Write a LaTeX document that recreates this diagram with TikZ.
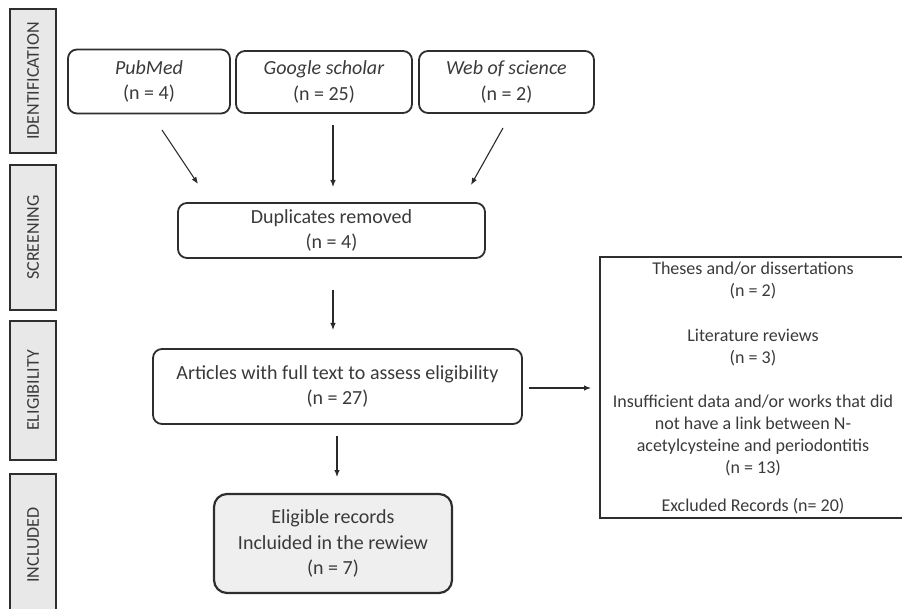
\documentclass[tikz,border=0pt]{standalone}
\usepackage{fontspec}
\setmainfont{Carlito}
\usetikzlibrary{arrows.meta}
\definecolor{boxc}{HTML}{2E2E2E}
\definecolor{txtc}{HTML}{3A3A3A}
\definecolor{arrc}{HTML}{2A2A2A}
\definecolor{phasefill}{HTML}{E8E8E8}
\definecolor{inclfill}{HTML}{EFEFEF}
\begin{document}
\begin{tikzpicture}[x=1pt,y=-1pt,
  box/.style={draw=boxc, line width=1.8pt, rounded corners=9pt, align=center, inner sep=0pt, text=txtc, font=\fontsize{20}{25.5}\selectfont},
  phase/.style={draw=boxc, line width=1.8pt, fill=phasefill, inner sep=0pt, rotate=90, minimum height=46pt, text=txtc, font=\fontsize{18}{22}\selectfont},
  arr/.style={draw=arrc, line width=1.1pt, -{Latex[length=7pt,width=5.5pt]}}
]
\useasboundingbox (0,0) rectangle (902,609);

% phase labels
\node[phase, minimum width=144pt] (ident) at (33,81) {IDENTIFICATION};
\node[phase, minimum width=145pt] (screen) at (33,237.5) {SCREENING};
\node[phase, minimum width=139pt] (elig) at (33,390.5) {ELIGIBILITY};
\node[phase, minimum width=142pt] (incl) at (33,545) {INCLUDED};

% sources
\node[box, minimum width=162pt, minimum height=64pt] (pub) at (149,81.5) {\textit{PubMed}\\(n = 4)};
\node[box, minimum width=176pt, minimum height=62pt] (goo) at (324,82) {\textit{Google scholar}\\(n = 25)};
\node[box, minimum width=175pt, minimum height=62pt] (web) at (506.5,82) {\textit{Web of science}\\(n = 2)};

% screening
\node[box, minimum width=307pt, minimum height=55pt] (dup) at (331.5,230.5) {Duplicates removed\\(n = 4)};

% eligibility
\node[box, minimum width=369pt, minimum height=75pt] (art) at (337.5,386.5) {Articles with full text to assess eligibility\\(n = 27)};

% included
\node[box, line width=2.2pt, rounded corners=13pt, fill=inclfill, minimum width=238pt, minimum height=99pt] (inc) at (333,543.5) {Eligible records\\Incluided in the rewiew\\(n = 7)};

% excluded
\node[draw=boxc, line width=1.8pt, align=center, inner sep=0pt, text=txtc, minimum width=306pt, minimum height=261pt, font=\fontsize{18}{22}\selectfont] (exc) at (753,387.5)
{Theses and/or dissertations\\(n = 2)\\[23pt]
Literature reviews\\(n = 3)\\[22pt]
Insufficient data and/or works that did\\not have a link between N-\\acetylcysteine and periodontitis\\(n = 13)\\[16pt]
Excluded Records (n= 20)};

% arrow end points
\coordinate (p1) at (162,130);
\coordinate (p2) at (198,184);
\coordinate (g1) at (333,125);
\coordinate (g2) at (333,187);
\coordinate (w1) at (503,128);
\coordinate (w2) at (471,185);
\coordinate (d1) at (333,290);
\coordinate (d2) at (333,330);
\coordinate (a1) at (337,436);
\coordinate (a2) at (337,477);
\coordinate (r1) at (529,388);
\coordinate (r2) at (591,388);

\draw[arr] (p1) -- (p2);
\draw[arr] (g1) -- (g2);
\draw[arr] (w1) -- (w2);
\draw[arr] (d1) -- (d2);
\draw[arr] (a1) -- (a2);
\draw[arr] (r1) -- (r2);
\end{tikzpicture}
\end{document}
